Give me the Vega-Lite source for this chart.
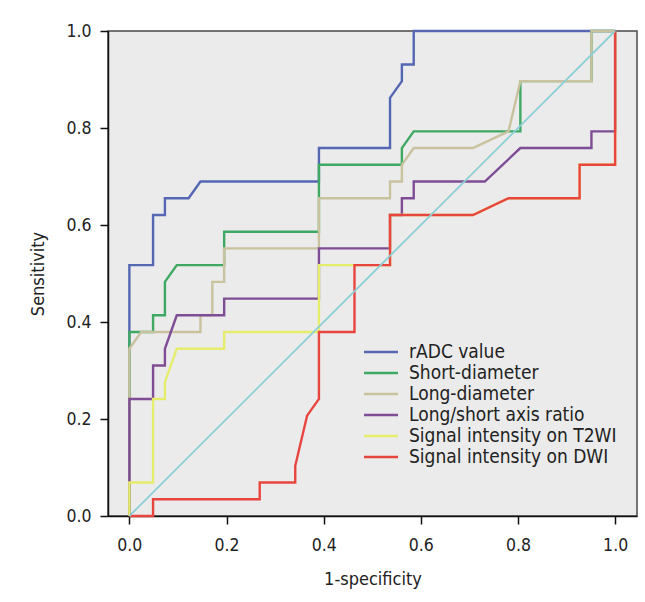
{
  "$schema": "https://vega.github.io/schema/vega-lite/v6.json",
  "width": 529,
  "height": 485,
  "autosize": "none",
  "padding": {"left": 108, "top": 31, "right": 8, "bottom": 86},
  "background": "#ffffff",
  "config": {
    "font": "DejaVu Sans Condensed",
    "view": {"fill": "#ebebeb", "stroke": "#4a4a4a", "strokeWidth": 1.5},
    "axis": {
      "grid": false,
      "domainColor": "#111111",
      "domainWidth": 1.5,
      "tickColor": "#111111",
      "tickWidth": 1.5,
      "tickSize": 8,
      "labelFontSize": 17.5,
      "labelColor": "#222222",
      "titleFontSize": 18,
      "titleFontWeight": "normal",
      "titleColor": "#222222"
    }
  },
  "datasets": {
    "roc": [
      {"s": "rADC value", "o": 1, "x": 0, "y": 0},
      {"s": "rADC value", "o": 2, "x": 0, "y": 0.51724},
      {"s": "rADC value", "o": 3, "x": 0.04878, "y": 0.51724},
      {"s": "rADC value", "o": 4, "x": 0.04878, "y": 0.62069},
      {"s": "rADC value", "o": 5, "x": 0.07317, "y": 0.62069},
      {"s": "rADC value", "o": 6, "x": 0.07317, "y": 0.65517},
      {"s": "rADC value", "o": 7, "x": 0.12195, "y": 0.65517},
      {"s": "rADC value", "o": 8, "x": 0.14634, "y": 0.68966},
      {"s": "rADC value", "o": 9, "x": 0.39024, "y": 0.68966},
      {"s": "rADC value", "o": 10, "x": 0.39024, "y": 0.75862},
      {"s": "rADC value", "o": 11, "x": 0.53659, "y": 0.75862},
      {"s": "rADC value", "o": 12, "x": 0.53659, "y": 0.86207},
      {"s": "rADC value", "o": 13, "x": 0.56098, "y": 0.89655},
      {"s": "rADC value", "o": 14, "x": 0.56098, "y": 0.93103},
      {"s": "rADC value", "o": 15, "x": 0.58537, "y": 0.93103},
      {"s": "rADC value", "o": 16, "x": 0.58537, "y": 1},
      {"s": "rADC value", "o": 17, "x": 1, "y": 1},

      {"s": "Short-diameter", "o": 1, "x": 0, "y": 0},
      {"s": "Short-diameter", "o": 2, "x": 0, "y": 0.37931},
      {"s": "Short-diameter", "o": 3, "x": 0.04878, "y": 0.37931},
      {"s": "Short-diameter", "o": 4, "x": 0.04878, "y": 0.41379},
      {"s": "Short-diameter", "o": 5, "x": 0.07317, "y": 0.41379},
      {"s": "Short-diameter", "o": 6, "x": 0.07317, "y": 0.48276},
      {"s": "Short-diameter", "o": 7, "x": 0.09756, "y": 0.51724},
      {"s": "Short-diameter", "o": 8, "x": 0.19512, "y": 0.51724},
      {"s": "Short-diameter", "o": 9, "x": 0.19512, "y": 0.58621},
      {"s": "Short-diameter", "o": 10, "x": 0.39024, "y": 0.58621},
      {"s": "Short-diameter", "o": 11, "x": 0.39024, "y": 0.72414},
      {"s": "Short-diameter", "o": 12, "x": 0.56098, "y": 0.72414},
      {"s": "Short-diameter", "o": 13, "x": 0.56098, "y": 0.75862},
      {"s": "Short-diameter", "o": 14, "x": 0.58537, "y": 0.7931},
      {"s": "Short-diameter", "o": 15, "x": 0.80488, "y": 0.7931},
      {"s": "Short-diameter", "o": 16, "x": 0.80488, "y": 0.89655},
      {"s": "Short-diameter", "o": 17, "x": 0.95122, "y": 0.89655},
      {"s": "Short-diameter", "o": 18, "x": 0.95122, "y": 1},
      {"s": "Short-diameter", "o": 19, "x": 1, "y": 1},

      {"s": "Long-diameter", "o": 1, "x": 0, "y": 0},
      {"s": "Long-diameter", "o": 2, "x": 0, "y": 0.34483},
      {"s": "Long-diameter", "o": 3, "x": 0.02439, "y": 0.37931},
      {"s": "Long-diameter", "o": 4, "x": 0.14634, "y": 0.37931},
      {"s": "Long-diameter", "o": 5, "x": 0.14634, "y": 0.41379},
      {"s": "Long-diameter", "o": 6, "x": 0.17073, "y": 0.41379},
      {"s": "Long-diameter", "o": 7, "x": 0.17073, "y": 0.48276},
      {"s": "Long-diameter", "o": 8, "x": 0.19512, "y": 0.48276},
      {"s": "Long-diameter", "o": 9, "x": 0.19512, "y": 0.55172},
      {"s": "Long-diameter", "o": 10, "x": 0.39024, "y": 0.55172},
      {"s": "Long-diameter", "o": 11, "x": 0.39024, "y": 0.65517},
      {"s": "Long-diameter", "o": 12, "x": 0.53659, "y": 0.65517},
      {"s": "Long-diameter", "o": 13, "x": 0.53659, "y": 0.68966},
      {"s": "Long-diameter", "o": 14, "x": 0.56098, "y": 0.68966},
      {"s": "Long-diameter", "o": 15, "x": 0.56098, "y": 0.72414},
      {"s": "Long-diameter", "o": 16, "x": 0.58537, "y": 0.75862},
      {"s": "Long-diameter", "o": 17, "x": 0.70732, "y": 0.75862},
      {"s": "Long-diameter", "o": 18, "x": 0.78049, "y": 0.7931},
      {"s": "Long-diameter", "o": 19, "x": 0.80488, "y": 0.89655},
      {"s": "Long-diameter", "o": 20, "x": 0.95122, "y": 0.89655},
      {"s": "Long-diameter", "o": 21, "x": 0.95122, "y": 1},
      {"s": "Long-diameter", "o": 22, "x": 1, "y": 1},

      {"s": "Long/short axis ratio", "o": 1, "x": 0, "y": 0},
      {"s": "Long/short axis ratio", "o": 2, "x": 0, "y": 0.24138},
      {"s": "Long/short axis ratio", "o": 3, "x": 0.04878, "y": 0.24138},
      {"s": "Long/short axis ratio", "o": 4, "x": 0.04878, "y": 0.31034},
      {"s": "Long/short axis ratio", "o": 5, "x": 0.07317, "y": 0.31034},
      {"s": "Long/short axis ratio", "o": 6, "x": 0.07317, "y": 0.34483},
      {"s": "Long/short axis ratio", "o": 7, "x": 0.09756, "y": 0.41379},
      {"s": "Long/short axis ratio", "o": 8, "x": 0.19512, "y": 0.41379},
      {"s": "Long/short axis ratio", "o": 9, "x": 0.19512, "y": 0.44828},
      {"s": "Long/short axis ratio", "o": 10, "x": 0.39024, "y": 0.44828},
      {"s": "Long/short axis ratio", "o": 11, "x": 0.39024, "y": 0.55172},
      {"s": "Long/short axis ratio", "o": 12, "x": 0.53659, "y": 0.55172},
      {"s": "Long/short axis ratio", "o": 13, "x": 0.53659, "y": 0.62069},
      {"s": "Long/short axis ratio", "o": 14, "x": 0.56098, "y": 0.62069},
      {"s": "Long/short axis ratio", "o": 15, "x": 0.56098, "y": 0.65517},
      {"s": "Long/short axis ratio", "o": 16, "x": 0.58537, "y": 0.65517},
      {"s": "Long/short axis ratio", "o": 17, "x": 0.58537, "y": 0.68966},
      {"s": "Long/short axis ratio", "o": 18, "x": 0.73171, "y": 0.68966},
      {"s": "Long/short axis ratio", "o": 19, "x": 0.80488, "y": 0.75862},
      {"s": "Long/short axis ratio", "o": 20, "x": 0.95122, "y": 0.75862},
      {"s": "Long/short axis ratio", "o": 21, "x": 0.95122, "y": 0.7931},
      {"s": "Long/short axis ratio", "o": 22, "x": 1, "y": 0.7931},
      {"s": "Long/short axis ratio", "o": 23, "x": 1, "y": 1},

      {"s": "Signal intensity on T2WI", "o": 1, "x": 0, "y": 0},
      {"s": "Signal intensity on T2WI", "o": 2, "x": 0, "y": 0.06897},
      {"s": "Signal intensity on T2WI", "o": 3, "x": 0.04878, "y": 0.06897},
      {"s": "Signal intensity on T2WI", "o": 4, "x": 0.04878, "y": 0.24138},
      {"s": "Signal intensity on T2WI", "o": 5, "x": 0.07317, "y": 0.24138},
      {"s": "Signal intensity on T2WI", "o": 6, "x": 0.07317, "y": 0.27586},
      {"s": "Signal intensity on T2WI", "o": 7, "x": 0.09756, "y": 0.34483},
      {"s": "Signal intensity on T2WI", "o": 8, "x": 0.19512, "y": 0.34483},
      {"s": "Signal intensity on T2WI", "o": 9, "x": 0.19512, "y": 0.37931},
      {"s": "Signal intensity on T2WI", "o": 10, "x": 0.39024, "y": 0.37931},
      {"s": "Signal intensity on T2WI", "o": 11, "x": 0.39024, "y": 0.51724},
      {"s": "Signal intensity on T2WI", "o": 12, "x": 0.46341, "y": 0.51724},
      {"s": "Signal intensity on T2WI", "o": 13, "x": 0.53659, "y": 0.51724},
      {"s": "Signal intensity on T2WI", "o": 14, "x": 0.53659, "y": 0.62069},
      {"s": "Signal intensity on T2WI", "o": 15, "x": 0.70732, "y": 0.62069},
      {"s": "Signal intensity on T2WI", "o": 16, "x": 0.78049, "y": 0.65517},
      {"s": "Signal intensity on T2WI", "o": 17, "x": 0.92683, "y": 0.65517},
      {"s": "Signal intensity on T2WI", "o": 18, "x": 0.92683, "y": 0.72414},
      {"s": "Signal intensity on T2WI", "o": 19, "x": 1, "y": 0.72414},
      {"s": "Signal intensity on T2WI", "o": 20, "x": 1, "y": 1},

      {"s": "Signal intensity on DWI", "o": 1, "x": 0, "y": 0},
      {"s": "Signal intensity on DWI", "o": 2, "x": 0.04878, "y": 0},
      {"s": "Signal intensity on DWI", "o": 3, "x": 0.04878, "y": 0.03448},
      {"s": "Signal intensity on DWI", "o": 4, "x": 0.26829, "y": 0.03448},
      {"s": "Signal intensity on DWI", "o": 5, "x": 0.26829, "y": 0.06897},
      {"s": "Signal intensity on DWI", "o": 6, "x": 0.34146, "y": 0.06897},
      {"s": "Signal intensity on DWI", "o": 7, "x": 0.34146, "y": 0.10345},
      {"s": "Signal intensity on DWI", "o": 8, "x": 0.36585, "y": 0.2069},
      {"s": "Signal intensity on DWI", "o": 9, "x": 0.39024, "y": 0.24138},
      {"s": "Signal intensity on DWI", "o": 10, "x": 0.39024, "y": 0.37931},
      {"s": "Signal intensity on DWI", "o": 11, "x": 0.46341, "y": 0.37931},
      {"s": "Signal intensity on DWI", "o": 12, "x": 0.46341, "y": 0.51724},
      {"s": "Signal intensity on DWI", "o": 13, "x": 0.53659, "y": 0.51724},
      {"s": "Signal intensity on DWI", "o": 14, "x": 0.53659, "y": 0.62069},
      {"s": "Signal intensity on DWI", "o": 15, "x": 0.70732, "y": 0.62069},
      {"s": "Signal intensity on DWI", "o": 16, "x": 0.78049, "y": 0.65517},
      {"s": "Signal intensity on DWI", "o": 17, "x": 0.92683, "y": 0.65517},
      {"s": "Signal intensity on DWI", "o": 18, "x": 0.92683, "y": 0.72414},
      {"s": "Signal intensity on DWI", "o": 19, "x": 1, "y": 0.72414},
      {"s": "Signal intensity on DWI", "o": 20, "x": 1, "y": 1}
    ],
    "ref": [
      {"x": 0, "y": 0},
      {"x": 1, "y": 1}
    ]
  },
  "layer": [
    {
      "data": {"name": "roc"},
      "mark": {"type": "line", "strokeWidth": 2.4, "clip": false},
      "encoding": {
        "x": {
          "field": "x", "type": "quantitative",
          "scale": {"domain": [-0.044, 1.045], "nice": false, "zero": false},
          "axis": {"values": [0, 0.2, 0.4, 0.6, 0.8, 1.0], "format": ".1f", "title": "1-specificity", "labelPadding": 12, "titlePadding": 17}
        },
        "y": {
          "field": "y", "type": "quantitative",
          "scale": {"domain": [0, 1], "nice": false},
          "axis": {"values": [0, 0.2, 0.4, 0.6, 0.8, 1.0], "format": ".1f", "title": "Sensitivity", "labelPadding": 9, "titlePadding": 18}
        },
        "color": {
          "field": "s", "type": "nominal",
          "scale": {
            "domain": ["rADC value", "Short-diameter", "Long-diameter", "Long/short axis ratio", "Signal intensity on T2WI", "Signal intensity on DWI"],
            "range": ["#5567b2", "#3fa862", "#c9c29e", "#7f4d95", "#e6ec6c", "#e8453f"]
          },
          "legend": {
            "title": null,
            "orient": "none",
            "legendX": 263,
            "legendY": 311,
            "padding": 0,
            "symbolType": "M-2,0H2",
            "symbolSize": 289,
            "symbolStrokeWidth": 2.5,
            "labelFontSize": 19,
            "labelLimit": 400,
            "labelColor": "#222222",
            "labelOffset": 18,
            "rowPadding": 1
          }
        },
        "order": {"field": "o", "type": "quantitative"}
      }
    },
    {
      "data": {"name": "ref"},
      "mark": {"type": "line", "strokeWidth": 1.8, "color": "#8dcfd6"},
      "encoding": {
        "x": {"field": "x", "type": "quantitative"},
        "y": {"field": "y", "type": "quantitative"}
      }
    }
  ]
}
